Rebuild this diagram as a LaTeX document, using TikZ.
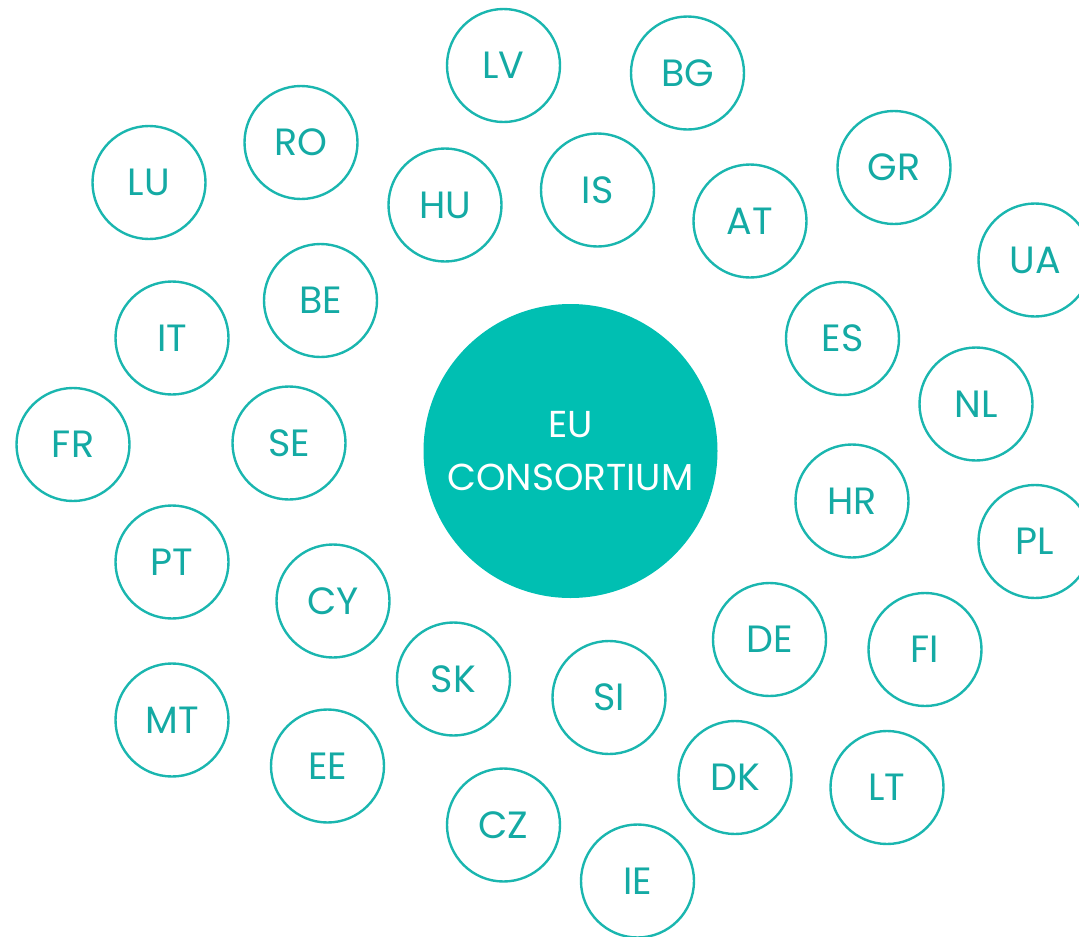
\documentclass[tikz,border=0pt]{standalone}
\usepackage{fontspec}
\setmainfont{Poppins}
\usepackage{tikz}
\usetikzlibrary{positioning}

\definecolor{ringteal}{RGB}{26,182,175}
\definecolor{textteal}{RGB}{20,170,164}
\definecolor{fillteal}{RGB}{0,191,178}

\tikzset{
  country/.style = {draw = ringteal, line width = 2.4pt, circle, minimum size = 113pt,
                    inner sep = 0pt, text = textteal,
                    font = \fontsize{38}{42}\selectfont},
  hub/.style = {circle, fill = fillteal, minimum size = 294pt, inner sep = 0pt,
                text = white, align = center,
                font = \fontsize{37.5}{53}\selectfont}
}

\begin{document}
\begin{tikzpicture}[x = 1pt, y = -1pt]
\useasboundingbox (0,0) rectangle (1079,937);
% the consortium in the middle
\node[hub] (eu) at (570.5,451) {EU\\CONSORTIUM};
% one ring per member country
\foreach \name/\x/\y in {LV/503.5/65.5, BG/687.5/73, RO/301/142.5, LU/149/182.5,
                          HU/445/205, IS/597.5/190, GR/894/167.5, AT/750/221,
                          UA/1035/260, BE/320.5/300.5, IT/172/338, ES/842.5/338.5,
                          NL/976/404, FR/73/444.5, SE/289/443, HR/852/501,
                          PL/1035/541.5, PT/172/562, CY/333/601, DE/769.5/639.5,
                          FI/925/649.5, SK/453.5/679, SI/609/697.5, MT/172/720,
                          EE/327.5/766, DK/735/777.5, LT/887/787.5, CZ/503.5/825,
                          IE/637.5/881}{
    \node[country] (\name) at (\x,\y) {\name};
}
\end{tikzpicture}
\end{document}
